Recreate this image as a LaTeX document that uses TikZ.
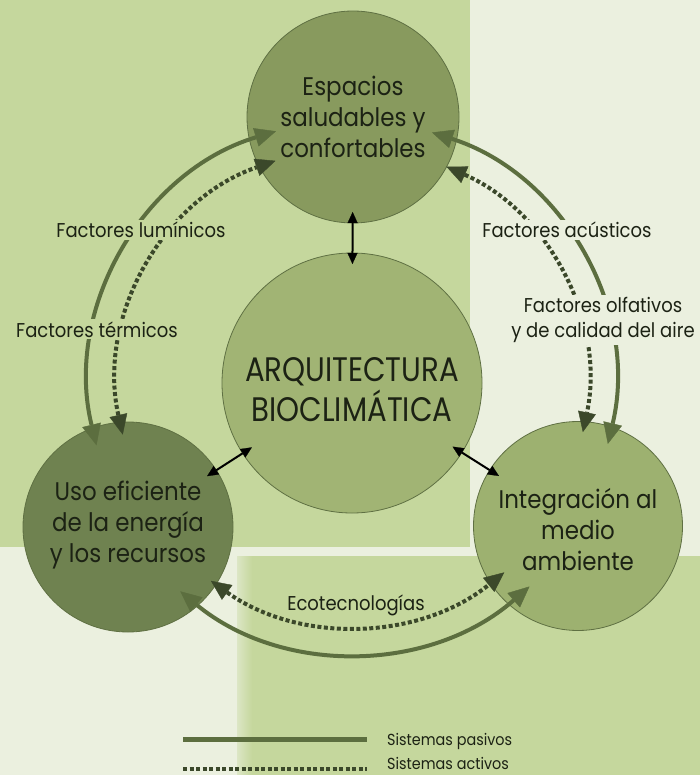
\documentclass[tikz,border=0pt]{standalone}
\usepackage{fontspec}
\setmainfont{Poppins}
\newfontfamily\gfont[FakeStretch=0.9]{Poppins}
\newfontfamily\afont[FakeStretch=0.86]{Poppins}
\usetikzlibrary{arrows.meta,calc}
\definecolor{pale}{HTML}{EBF0DF}
\definecolor{lgreen}{HTML}{C5D79D}
\definecolor{ctop}{HTML}{889A5E}
\definecolor{cmid}{HTML}{A1B474}
\definecolor{cleft}{HTML}{6F8250}
\definecolor{cright}{HTML}{9DB170}
\definecolor{edgec}{HTML}{5F7043}
\definecolor{pas}{HTML}{5C6E3F}
\definecolor{act}{HTML}{3B482A}
\definecolor{ink}{HTML}{1C2214}
\begin{document}
\begin{tikzpicture}[x=1pt,y=-1pt,
  bubble/.style={circle,draw=edgec,line width=0.8pt,inner sep=0pt,outer sep=0pt},
  passive/.style={draw=pas,line width=4pt,
    {Triangle[length=21pt,width=19pt,line width=0.4pt]}-{Triangle[length=21pt,width=19pt,line width=0.4pt]}},
  active/.style={draw=act,line width=4pt,dash pattern=on 4pt off 2.5pt,
    {Triangle[length=20pt,width=18pt,line width=0.4pt]}-{Triangle[length=20pt,width=18pt,line width=0.4pt]}},
  ctext/.style={text=ink,align=center,font=\gfont\fontsize{25.5}{31}\selectfont},
  atext/.style={text=ink,align=center,font=\afont\fontsize{34}{40}\selectfont},
  lab/.style={text=ink,align=center,font=\gfont\fontsize{20}{25}\selectfont,inner sep=2pt},
  legtext/.style={text=ink,font=\gfont\fontsize{16}{20}\selectfont,inner sep=0pt},
  link/.style={black,line width=2pt,
    {Triangle[length=11pt,width=10pt,line width=0.2pt]}-{Triangle[length=11pt,width=10pt,line width=0.2pt]},
    shorten <=-11pt,shorten >=-11pt}
]
% background
\fill[pale] (0,0) rectangle (700,775);
\fill[lgreen] (0,0) rectangle (470,547);
\fill[lgreen] (237,556) rectangle (700,775);
\shade[left color=pale!60!lgreen,right color=lgreen] (237,556) rectangle (252,775);
\useasboundingbox (0,0) rectangle (700,775);

% circles
\node[bubble,fill=cmid,minimum size=260pt] (arq) at (352,383) {};
\node[bubble,fill=ctop,minimum size=212pt] (esp) at (353,117) {};
\node[bubble,fill=cleft,minimum size=210pt] (uso) at (128,527) {};
\node[bubble,fill=cright,minimum size=209pt] (int) at (578,526) {};

% circle texts
\node[atext] (arqt) at (352,390) {ARQUITECTURA\\BIOCLIMÁTICA};
\node[ctext] (espt) at (353,117) {Espacios\\saludables y\\confortables};
\node[ctext] (usot) at (128,525) {Uso eficiente\\de la energía\\y los recursos};
\node[ctext] (intt) at (578,530) {Integración al\\medio\\ambiente};

% arc end points (concentric with the central circle)
\coordinate (ls1) at ($(arq.center)+(166.3:263)$);
\coordinate (la1) at ($(arq.center)+(167.3:235)$);
\coordinate (rs1) at ($(arq.center)+(287.7:263)$);
\coordinate (ra1) at ($(arq.center)+(293.6:236)$);
\coordinate (bs1) at ($(arq.center)+(129.5:270)$);
\coordinate (ba1) at ($(arq.center)+(125.5:243)$);

% passive / active connectors
\draw[passive] (ls1) arc[start angle=166.3,end angle=253.2,radius=263];
\draw[active] (la1) arc[start angle=167.3,end angle=251,radius=235];
\draw[passive] (rs1) arc[start angle=287.7,end angle=373.4,radius=263];
\draw[active] (ra1) arc[start angle=293.6,end angle=372,radius=236];
\draw[passive] (bs1) arc[start angle=129.5,end angle=48.9,radius=270];
\draw[active] (ba1) arc[start angle=125.5,end angle=51.2,radius=243];

% labels
\node[lab,fill=lgreen,anchor=base] (lum) at (141,238) {Factores lumínicos};
\node[lab,fill=lgreen,anchor=base] (ter) at (97,337) {Factores térmicos};
\node[lab,fill=pale,anchor=base] (acu) at (567,238) {Factores acústicos};
\node[lab,fill=pale] (olf) at (603,320) {Factores olfativos\\y de calidad del aire};
\node[lab,anchor=base] (eco) at (356,610) {Ecotecnologías};

% links with the central circle
\draw[link] (esp) -- (arq);
\draw[link] (uso) -- (arq);
\draw[link] (arq) -- (int);

% legend
\coordinate (lp1) at (183,739);
\coordinate (lp2) at (367,739);
\coordinate (la1l) at (183,769);
\coordinate (la2l) at (367,769);
\draw[pas,line width=5pt] (lp1) -- (lp2);
\draw[act,line width=4pt,dash pattern=on 4pt off 2.5pt] (la1l) -- (la2l);
\node[legtext,anchor=base west] (lpt) at (387,745) {Sistemas pasivos};
\node[legtext,anchor=base west] (lat) at (387,769.5) {Sistemas activos};
\end{tikzpicture}
\end{document}
